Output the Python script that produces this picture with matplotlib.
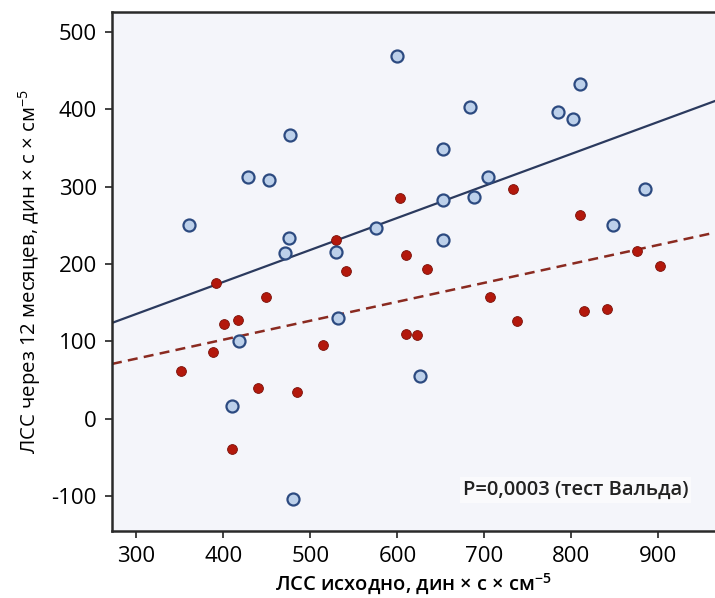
import numpy as np
import matplotlib
matplotlib.use('Agg')
import matplotlib.pyplot as plt

plt.rcParams['font.family'] = ['Open Sans', 'DejaVu Sans']
plt.rcParams['mathtext.default'] = 'regular'
plt.rcParams['axes.unicode_minus'] = False

# blue group (open circles)
blue_x = [360, 428, 453, 477, 475, 471, 529, 600, 684, 652, 704, 652, 688, 652, 575,
          785, 802, 810, 885, 848, 532, 418, 410, 480, 626]
blue_y = [250, 313, 309, 367, 234, 215, 216, 469, 403, 349, 313, 283, 287, 231, 247,
          397, 387, 433, 297, 250, 131, 100, 17, -103, 56]

# red group (filled dots)
red_x = [392, 449, 530, 541, 603, 610, 634, 733, 810, 875, 902, 707,
         401, 417, 388, 351, 440, 485, 514, 410, 610, 622, 737, 815, 841]
red_y = [175, 158, 231, 191, 285, 212, 194, 297, 263, 217, 198, 158,
         122, 128, 86, 62, 40, 35, 96, -39, 110, 108, 126, 140, 142]

# regression lines: (intercept at x=0, slope)
blue_fit = (124 - 0.414 * 272, 0.414)
red_fit = (71 - 0.245 * 272, 0.245)

xlim = (272, 965)
ylim = (-145, 526)

fig = plt.figure(figsize=(7.15, 5.98), dpi=100)
ax = fig.add_axes([0.1566, 0.112, 0.8434, 0.868])
ax.set_facecolor('#f4f5fa')

xs = np.array(xlim)
ax.plot(xs, blue_fit[0] + blue_fit[1] * xs, color='#2b3a5e', lw=1.6, zorder=2)
ax.plot(xs, red_fit[0] + red_fit[1] * xs, color='#8a2a20', lw=1.8, ls=(0, (4, 2.5)), zorder=2)

ax.scatter(red_x, red_y, s=50, color='#b3180c', edgecolors='#7a120a', linewidths=0.6, zorder=3)
ax.scatter(blue_x, blue_y, s=75, color='#bcd0ea', edgecolors='#2c4a80', linewidths=1.6, zorder=4)

ax.set_xlim(*xlim)
ax.set_ylim(*ylim)
ax.set_xticks(range(300, 1000, 100))
ax.set_yticks(range(-100, 600, 100))
ax.tick_params(labelsize=16, length=5, width=1.3, color='#333333', direction='out', pad=6)
for lab in ax.get_xticklabels() + ax.get_yticklabels():
    lab.set_fontweight('medium')
for s in ['left', 'bottom', 'top']:
    ax.spines[s].set_linewidth(1.8)
    ax.spines[s].set_color('#2a2a2a')
ax.spines['right'].set_visible(False)

ax.set_xlabel('ЛСС исходно, дин × с × см$^{-5}$', fontsize=14.5, fontweight='semibold', labelpad=3)
ax.set_ylabel('ЛСС через 12 месяцев, дин × с × см$^{-5}$', fontsize=14.7, fontweight='medium',
              labelpad=6)

ax.text(0.582, 0.079, 'P=0,0003 (тест Вальда)', transform=ax.transAxes, fontsize=14.5,
        fontweight='semibold', color='#222222', ha='left', va='center',
        bbox=dict(facecolor='white', edgecolor='none', alpha=0.6, pad=2))

plt.savefig('out.png', dpi=100)
